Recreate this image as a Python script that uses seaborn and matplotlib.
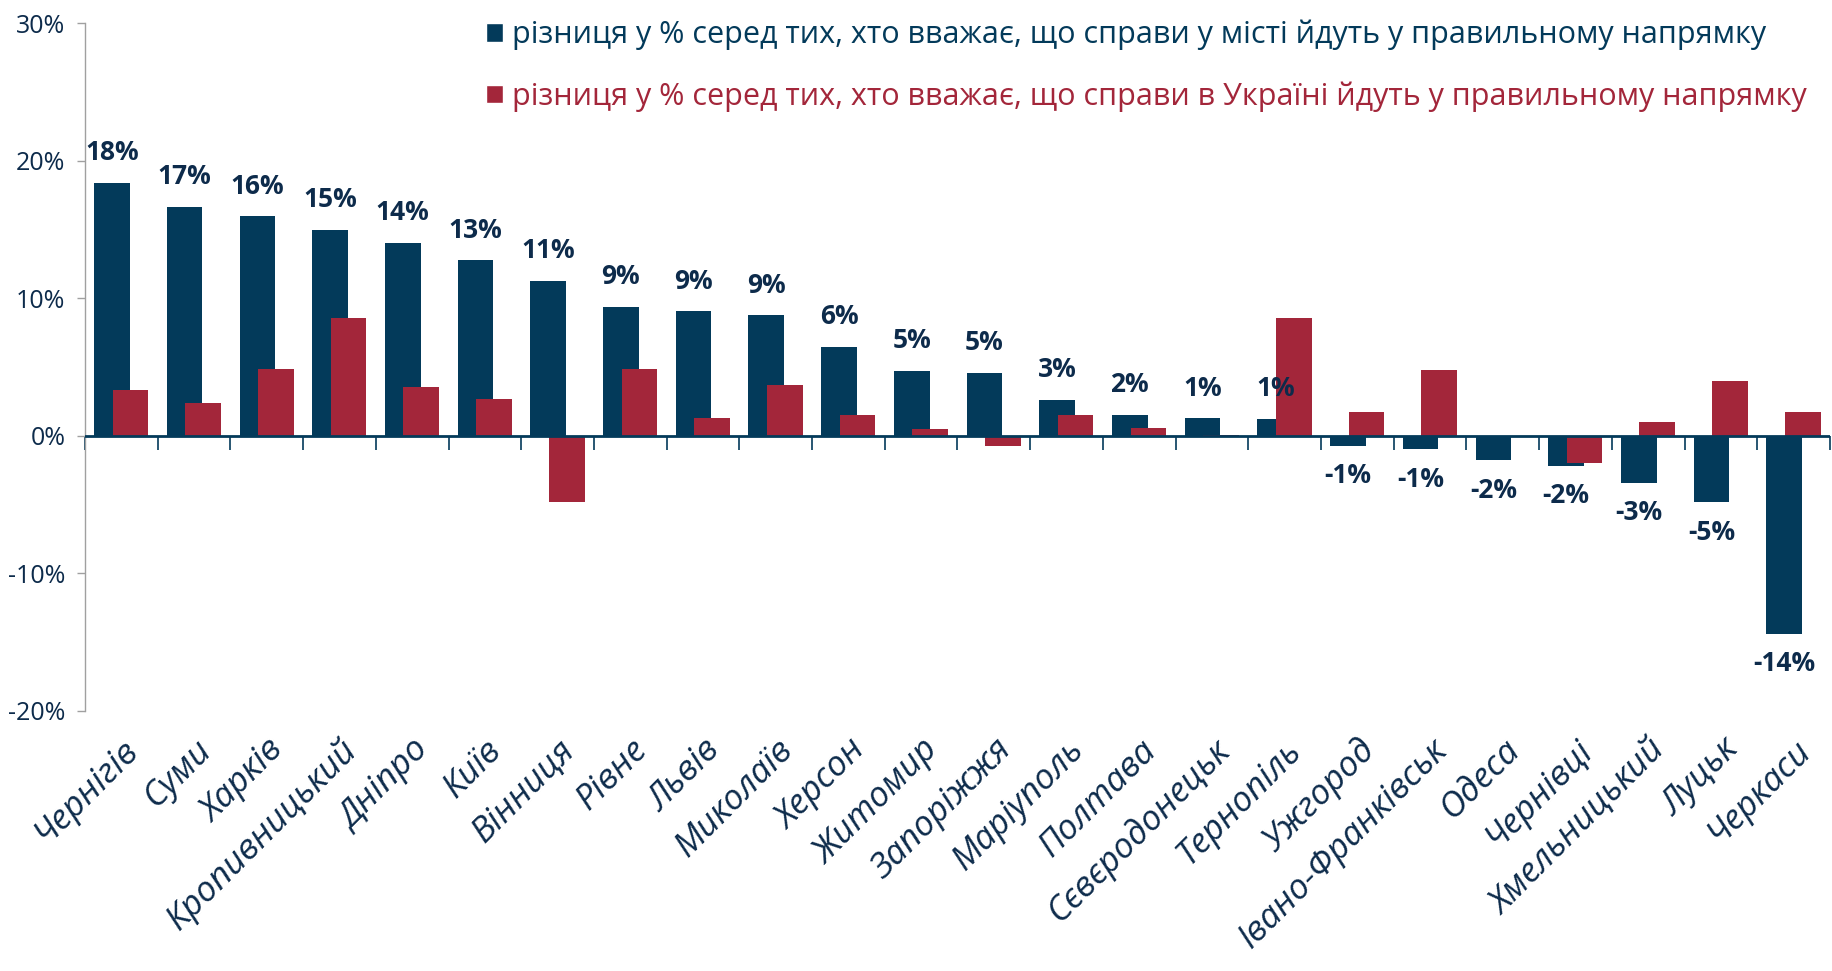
import numpy as np
import pandas as pd
import seaborn as sns
import matplotlib.pyplot as plt
from matplotlib.patches import Patch

# data
cities = ["Чернігів", "Суми", "Харків", "Кропивницький", "Дніпро", "Київ",
          "Вінниця", "Рівне", "Львів", "Миколаїв", "Херсон", "Житомир",
          "Запоріжжя", "Маріуполь", "Полтава", "Сєвєродонецьк", "Тернопіль",
          "Ужгород", "Івано-Франківськ", "Одеса", "Чернівці", "Хмельницький",
          "Луцьк", "Черкаси"]
city_diff = [18.4, 16.65, 15.95, 14.97, 14.03, 12.77, 11.28, 9.38, 9.04, 8.75,
             6.46, 4.70, 4.60, 2.63, 1.52, 1.28, 1.25, -0.72, -0.99, -1.76,
             -2.17, -3.42, -4.84, -14.4]
ukraine_diff = [3.33, 2.39, 4.84, 8.6, 3.54, 2.67, -4.83, 4.84, 1.28, 3.71,
                1.54, 0.46, -0.77, 1.54, 0.55, 0.06, 8.58, 1.71, 4.75, -0.05,
                -2.0, 1.01, 4.0, 1.76]
legend_labels = [
    "різниця у % серед тих, хто вважає, що справи у місті йдуть у правильному напрямку",
    "різниця у % серед тих, хто вважає, що справи в Україні йдуть у правильному напрямку",
]
y_ticks = [-20, -10, 0, 10, 20, 30]

navy = "#033A5A"
crimson = "#A3263A"
text_navy = "#0D2B4B"

sns.set_theme(style="white")
plt.rcParams['font.family'] = ['Open Sans', 'DejaVu Sans']

fig = plt.figure(figsize=(18.32, 9.71), dpi=100)
ax = fig.add_axes([0.0464, 0.268, 0.9525, 0.708])

pos = np.arange(len(cities))
df = pd.DataFrame({"pos": pos, "city": city_diff, "ukraine": ukraine_diff})

# overlapping bars: blue left, red shifted right and drawn on top
sns.barplot(x=df["pos"] - 0.13, y=df["city"], native_scale=True, orient="x",
            width=0.49, color=navy, saturation=1, linewidth=0, errorbar=None, ax=ax)
sns.barplot(x=df["pos"] + 0.125, y=df["ukraine"], native_scale=True, orient="x",
            width=0.49, color=crimson, saturation=1, linewidth=0, errorbar=None, ax=ax)

ax.bar_label(ax.containers[0], labels=[f"{v:.0f}%" for v in np.rint(city_diff)],
             padding=12, fontsize=19, fontweight="bold", color=text_navy)

ax.axhline(0, color=navy, lw=2, zorder=3)

ax.set_ylim(-20, 30)
ax.set_xlim(-0.5, len(cities) - 0.5)
ax.set_yticks(y_ticks, [f"{t}%" for t in y_ticks])
ax.tick_params(axis="y", left=True, length=6, width=1, color="#A0A0A0",
               labelcolor=text_navy, labelsize=18, pad=8)
ax.set_xticks(pos, cities, rotation=45, ha="right", rotation_mode="anchor",
              fontstyle="italic", fontsize=25, color=text_navy)
ax.tick_params(axis="x", length=0, pad=16)
ax.set_xlabel("")
ax.set_ylabel("")

for side in ["top", "right", "bottom"]:
    ax.spines[side].set_visible(False)
ax.spines["left"].set_color("#A0A0A0")
ax.spines["left"].set_linewidth(1)

# small category separator ticks on the zero line
zero_frac = (0 - y_ticks[0]) / (y_ticks[-1] - y_ticks[0])
sec = ax.secondary_xaxis(zero_frac)
sec.set_xticks(np.arange(len(cities) + 1) - 0.5)
sec.tick_params(direction="out", length=10, width=1.2, color=navy,
                labelbottom=False, labeltop=False)
for sp in sec.spines.values():
    sp.set_visible(False)

handles = [Patch(facecolor=navy), Patch(facecolor=crimson)]
leg = fig.legend(handles, legend_labels, loc="upper left",
                 bbox_to_anchor=(486 / 1832, 1 - 20 / 971), frameon=False,
                 fontsize=22, handlelength=0.55, handleheight=0.55,
                 handletextpad=0.3, labelspacing=1.0, borderpad=0,
                 borderaxespad=0)
for txt, col in zip(leg.get_texts(), [navy, crimson]):
    txt.set_color(col)

fig.savefig("out.png", dpi=100)
